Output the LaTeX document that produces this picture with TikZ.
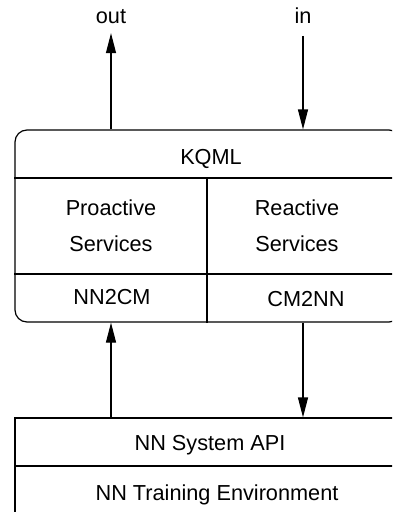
\documentclass[tikz,border=0pt]{standalone}
\usepackage{fontspec}
\setmainfont{Liberation Sans}
\usetikzlibrary{arrows.meta}

\begin{document}
\begin{tikzpicture}[x=1pt, y=-1pt, line width=1.2pt,
    font=\fontsize{21.7pt}{36pt}\selectfont,
    txt/.style={anchor=base},
    arr/.style={-{Triangle[length=20pt, width=10pt]}}]
  \useasboundingbox (0, 0) rectangle (392, 512);
  \clip (0, 0) rectangle (392, 512);
  \node[draw, rounded corners=12pt, minimum width=386pt, minimum height=192pt] (agent) at (208, 226) {};
  \node[txt] (kqml) at (211, 164) {KQML};
  \node[align=center] (pro) at (111, 226) {Proactive\\Services};
  \node[align=center] (re) at (297, 226) {Reactive\\Services};
  \node[txt] (nncm) at (112, 304) {NN2CM};
  \node[txt] (cmnn) at (306, 306.5) {CM2NN};
  \coordinate (top) at (207, 178);
  \coordinate (mid) at (207, 274);
  \draw (agent.west |- top) -- (agent.east |- top);
  \draw (agent.west |- mid) -- (agent.east |- mid);
  \draw (top) -- (agent.south -| top);
  \node[draw, minimum width=390pt, minimum height=96pt] (nn) at (210, 466) {};
  \draw (nn.west) -- (nn.east);
  \node[txt] (api) at (210, 450.5) {NN System API};
  \node[txt] (env) at (217, 500) {NN Training Environment};
  \node[txt] (out) at (111, 23) {out};
  \node[txt] (in) at (303, 23) {in};
  \draw[arr, shorten >=6pt] (agent.north -| out) -- (out.south);
  \draw[arr, shorten <=9pt] (in.south) -- (agent.north -| in);
  \draw[arr] (nn.north -| out) -- (agent.south -| out);
  \draw[arr] (agent.south -| in) -- (nn.north -| in);
\end{tikzpicture}
\end{document}
